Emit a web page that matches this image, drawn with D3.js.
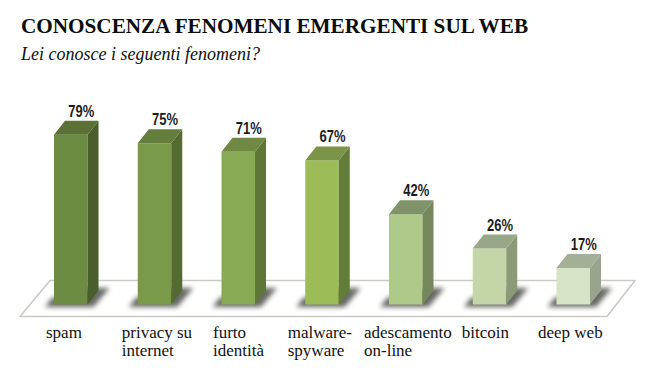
<!DOCTYPE html>
<html><head><meta charset="utf-8">
<script src="https://cdn.jsdelivr.net/npm/d3@7"></script>
<style>html,body{margin:0;padding:0;background:#fff}svg{display:block}</style></head>
<body><div id="c"></div>
<script>
const categories=["spam","privacy su internet","furto identità","malware-spyware","adescamento on-line","bitcoin","deep web"];
const labelLines=[["spam"],["privacy su","internet"],["furto","identità"],["malware-","spyware"],["adescamento","on-line"],["bitcoin"],["deep web"]];
const values=[79,75,71,67,42,26,17];
const frontColors=["#6d8b43","#7a9a4a","#8aa955","#9cbc58","#afc98a","#c4d6a7","#d7e3c6"];
const sideColors=["#4a5e2c","#536b31","#5e7636","#627d39","#75885c","#8b9b78","#99a48e"];
const topColors=["#5a7037","#647e3d","#6f8842","#7b9448","#7f9269","#99a789","#a4af97"];
const labelOffsets=[-8,-16,-8.5,-17.5,-25,-11,-18.5];

const W=647,H=373,base=304.5,dx=11,dy=14;
const svg=d3.select("#c").append("svg").attr("width",W).attr("height",H);
const x=d3.scaleBand().domain(categories).range([54,590]).paddingInner(0.6).paddingOuter(0);
const y=d3.scaleLinear().domain([0,100]).range([base,base-215]);
const bw=x.bandwidth();

const defs=svg.append("defs");
defs.append("filter").attr("id","sh").attr("x","-40%").attr("y","-60%").attr("width","180%").attr("height","220%")
  .append("feGaussianBlur").attr("stdDeviation",2.6);

svg.append("text").attr("x",21).attr("y",33).attr("font-family","Liberation Serif").attr("font-weight","bold")
  .attr("font-size",21.2).attr("fill","#0c0c0c").text("CONOSCENZA FENOMENI EMERGENTI SUL WEB");
svg.append("text").attr("x",21).attr("y",60).attr("font-family","Liberation Serif").attr("font-style","italic")
  .attr("font-size",18).attr("fill","#111").text("Lei conosce i seguenti fenomeni?");

svg.append("path").attr("d","M20,316.5L50,280.5L635,280.5L607,316.5Z").attr("fill","#fff")
  .attr("stroke","#c9cbc6").attr("stroke-width",1.6).attr("stroke-linejoin","round");

const g=svg.selectAll("g.bar").data(categories.map((c,i)=>({c,i,v:values[i]}))).join("g").attr("class","bar");
g.append("path").attr("filter","url(#sh)").attr("fill","#5f615c").attr("opacity",.95)
  .attr("d",d=>{const l=x(d.c);return `M${l-9},307L${l+bw+6},307L${l+bw+dx+11},288L${l+bw},288L${l-2},298Z`;});
g.append("rect").attr("x",d=>x(d.c)).attr("y",d=>y(d.v)).attr("width",bw).attr("height",d=>base-y(d.v)).attr("fill",d=>frontColors[d.i]);
g.append("path").attr("fill",d=>sideColors[d.i]).attr("d",d=>{const r=x(d.c)+bw,t=y(d.v);return `M${r},${t}L${r+dx},${t-dy}L${r+dx},${base-dy}L${r},${base}Z`;});
g.append("path").attr("fill",d=>topColors[d.i]).attr("d",d=>{const l=x(d.c),t=y(d.v);return `M${l},${t}L${l+dx},${t-dy}L${l+bw+dx},${t-dy}L${l+bw},${t}Z`;});
g.append("text").attr("x",d=>x(d.c)+bw/2+10.5).attr("y",d=>y(d.v)-dy-4).attr("text-anchor","middle")
  .attr("font-family","Liberation Sans").attr("font-weight","bold").attr("font-size",17).attr("fill","#1c1c1c")
  .attr("textLength",26).attr("lengthAdjust","spacingAndGlyphs").text(d=>d.v+"%");
g.each(function(d){
  const t=d3.select(this).append("text").attr("font-family","Liberation Serif").attr("font-size",17).attr("fill","#111");
  labelLines[d.i].forEach((s,k)=>t.append("tspan").attr("x",x(d.c)+labelOffsets[d.i]).attr("y",338+k*17.5).text(s));
});
</script></body></html>
